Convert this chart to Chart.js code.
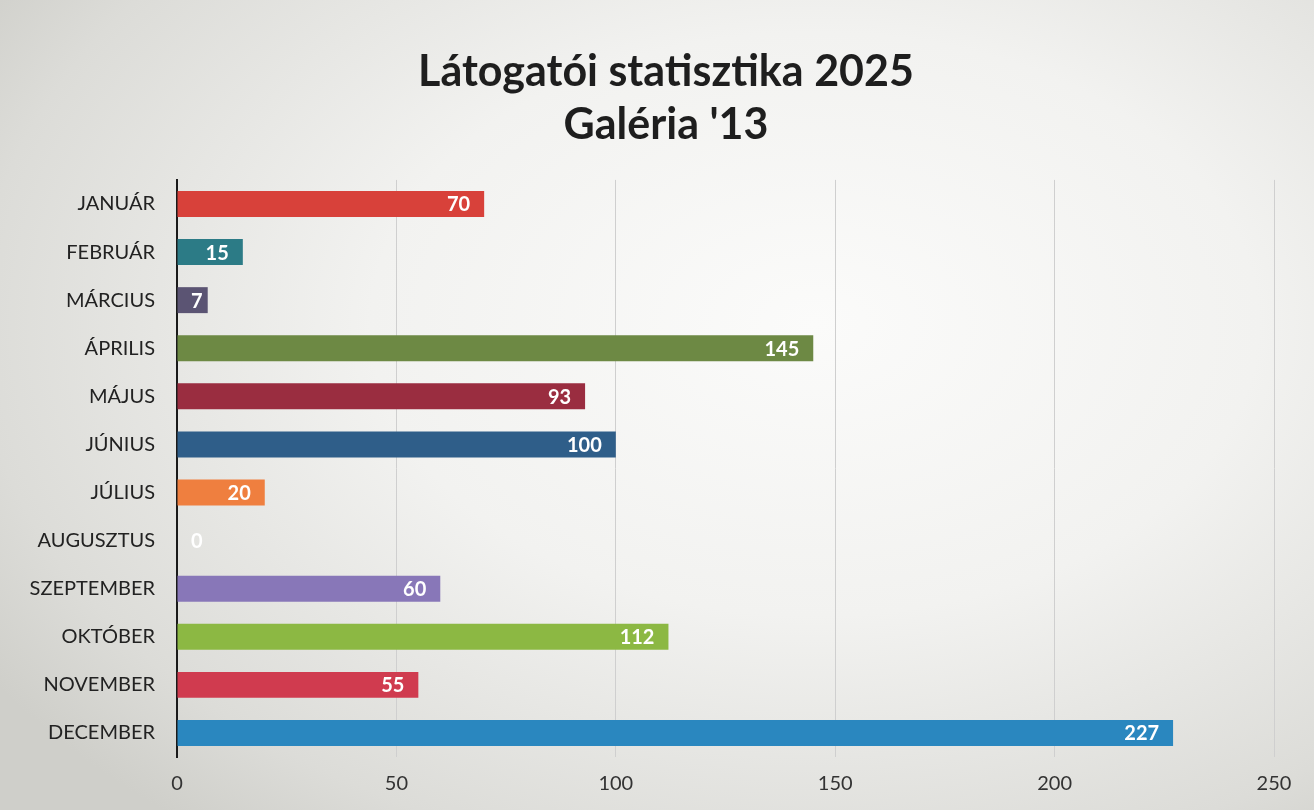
<!DOCTYPE html>
<html><head><meta charset="utf-8">
<script src="https://cdn.jsdelivr.net/npm/chart.js@4.4.1/dist/chart.umd.min.js"></script>
<style>
html,body{margin:0;padding:0;}
body{width:1314px;height:810px;overflow:hidden;
background:radial-gradient(ellipse 75% 80% at 62% 40%, #fbfbfa 0%, #f2f2f0 45%, #dcdcd8 85%, #cfcfca 100%);}
#wrap{position:absolute;left:0;top:0;width:1314px;height:810px;}
</style></head>
<body><div id="wrap"><canvas id="c" width="1314" height="810"></canvas></div>
<script>
const titleLines = ["Látogatói statisztika 2025", "Galéria '13"];
const months = ["JANUÁR","FEBRUÁR","MÁRCIUS","ÁPRILIS","MÁJUS","JÚNIUS","JÚLIUS","AUGUSZTUS","SZEPTEMBER","OKTÓBER","NOVEMBER","DECEMBER"];
const visitors = [70,15,7,145,93,100,20,0,60,112,55,227];
const barColors = ["#d8413a","#2c7b86","#5b5473","#6d8944","#9a2d40","#2f5e89","#ef7f3f","#7fb0d8","#8877b8","#8cb843","#d03b4f","#2a87bf"];
const xTicks = [0,50,100,150,200,250];

const FONT = "Lato, 'Open Sans', sans-serif";

const titleShift = {
  id: 'titleShift',
  afterLayout(chart) {
    if (chart.titleBlock) { chart.titleBlock.left = 58; }
  }
};

const valueLabels = {
  id: 'valueLabels',
  afterDatasetsDraw(chart) {
    const ctx = chart.ctx;
    const meta = chart.getDatasetMeta(0);
    const xs = chart.scales.x;
    ctx.save();
    ctx.font = "bold 20px " + FONT;
    ctx.fillStyle = "#ffffff";
    ctx.textAlign = "right";
    ctx.textBaseline = "middle";
    meta.data.forEach((bar, i) => {
      const txt = String(visitors[i]);
      const w = ctx.measureText(txt).width;
      const x = Math.max(bar.x - 14, xs.left + w + 14);
      ctx.fillText(txt, x, bar.y + 1);
    });
    ctx.restore();
  }
};

new Chart(document.getElementById('c'), {
  type: 'bar',
  data: {
    labels: months,
    datasets: [{
      data: visitors,
      backgroundColor: barColors,
      borderWidth: 0,
      categoryPercentage: 1,
      barPercentage: 0.54
    }]
  },
  options: {
    indexAxis: 'y',
    responsive: false,
    animation: false,
    layout: { padding: { left: 0, right: 40, top: 0, bottom: 0 } },
    plugins: {
      legend: { display: false },
      tooltip: { enabled: false },
      title: {
        display: true,
        text: titleLines,
        color: "#1e1e1e",
        font: { family: FONT, size: 43, weight: 'bold', lineHeight: 1.22 },
        padding: { top: 46, bottom: 29 }
      }
    },
    scales: {
      x: {
        min: 0, max: 250,
        afterBuildTicks(scale) { scale.ticks = xTicks.map(v => ({ value: v })); },
        afterFit(scale) { scale.height = 53; },
        grid: { color: "#cfcfcf", lineWidth: 1, drawTicks: false },
        border: { display: false },
        ticks: { color: "#333", font: { family: FONT, size: 20 }, padding: 15 }
      },
      y: {
        afterFit(scale) { scale.width = 177; },
        grid: { display: false, drawTicks: false },
        border: { display: true, color: "#1a1a1a", width: 2 },
        ticks: { color: "#222", font: { family: FONT, size: 20 }, padding: 22 }
      }
    }
  },
  plugins: [titleShift, valueLabels]
});
</script>
</body></html>
